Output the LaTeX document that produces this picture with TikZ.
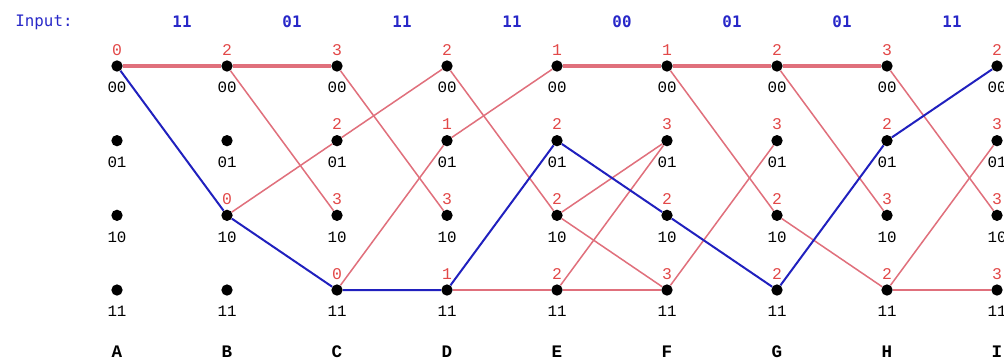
\documentclass[tikz,border=0pt]{standalone}
\usepackage{fontspec}
\setmonofont{Liberation Mono}
\newfontfamily\inputfont{DejaVu Sans Mono}
\usetikzlibrary{positioning}
\definecolor{survred}{RGB}{224,112,124}
\definecolor{metricred}{RGB}{226,72,72}
\definecolor{bestblue}{RGB}{32,32,190}
\definecolor{inblue}{RGB}{40,40,200}
\tikzset{
  dot/.style={circle, fill=black, inner sep=0pt, minimum size=3.4mm},
  statelab/.style={font=\ttfamily\fontsize{13.5}{15}\selectfont, inner sep=0pt},
  metric/.style={font=\ttfamily\fontsize{14}{16}\selectfont, text=metricred, inner sep=0pt},
  collab/.style={font=\ttfamily\bfseries\fontsize{15}{17}\selectfont, inner sep=0pt},
  inlab/.style={font=\inputfont\bfseries\fontsize{13.5}{15}\selectfont, text=inblue, inner sep=0pt},
  inhead/.style={font=\inputfont\fontsize{13.5}{15}\selectfont, text=inblue, inner sep=0pt},
  surv/.style={draw=survred, line width=1.3pt},
  survtop/.style={draw=survred, line width=2.6pt},
  best/.style={draw=bestblue, line width=1.7pt},
}

\begin{document}
\begin{tikzpicture}[x=0.03cm, y=-0.03cm]
\useasboundingbox (0,0) rectangle (1004,360);
% trellis grid
\foreach \col [count=\i from 0] in {A,B,C,D,E,F,G,H,I} {
  \foreach \st [count=\j from 0] in {00,01,10,11} {
    \node[dot] (\col\st) at (117+110*\i, 66+74.67*\j) {};
    \node[statelab, below=8.5pt of \col\st] (\col\st-txt) {\st};
  }
  \node[collab] (\col-name) at (117+110*\i, 352) {\col};
}
% path metrics
\foreach \col/\st/\m in {A/00/0, B/00/2, B/10/0, C/00/3, C/01/2, C/10/3, C/11/0,
    D/00/2, D/01/1, D/10/3, D/11/1, E/00/1, E/01/2, E/10/2, E/11/2,
    F/00/1, F/01/3, F/10/2, F/11/3, G/00/2, G/01/3, G/10/2, G/11/2,
    H/00/3, H/01/2, H/10/3, H/11/2, I/00/2, I/01/3, I/10/3, I/11/3}
  \node[metric, above=4pt of \col\st] (\col\st-m) {\m};
% received bits
\node[inhead] (inp) at (44,22) {Input:};
\foreach \bits [count=\k from 0] in {11,01,11,11,00,01,01,11}
  \node[inlab] (in\k) at (182+110*\k, 22) {\bits};
% survivors
\draw[survtop] (A00) -- (B00);
\draw[survtop] (B00) -- (C00);
\draw[surv] (B00) -- (C10);
\draw[surv] (B10) -- (C01);
\draw[surv] (C00) -- (D10);
\draw[surv] (C01) -- (D00);
\draw[surv] (C11) -- (D01);
\draw[surv] (D00) -- (E10);
\draw[surv] (D01) -- (E00);
\draw[surv] (D11) -- (E11);
\draw[survtop] (E00) -- (F00);
\draw[surv] (E10) -- (F01);
\draw[surv] (E11) -- (F01);
\draw[surv] (E10) -- (F11);
\draw[surv] (E11) -- (F11);
\draw[survtop] (F00) -- (G00);
\draw[surv] (F00) -- (G10);
\draw[surv] (F11) -- (G01);
\draw[survtop] (G00) -- (H00);
\draw[surv] (G00) -- (H10);
\draw[surv] (G10) -- (H11);
\draw[surv] (H00) -- (I10);
\draw[surv] (H11) -- (I01);
\draw[surv] (H11) -- (I11);
% decoded path
\draw[best] (A00) -- (B10) -- (C11) -- (D11) -- (E01) -- (F10) -- (G11) -- (H01) -- (I00);
\end{tikzpicture}
\end{document}
